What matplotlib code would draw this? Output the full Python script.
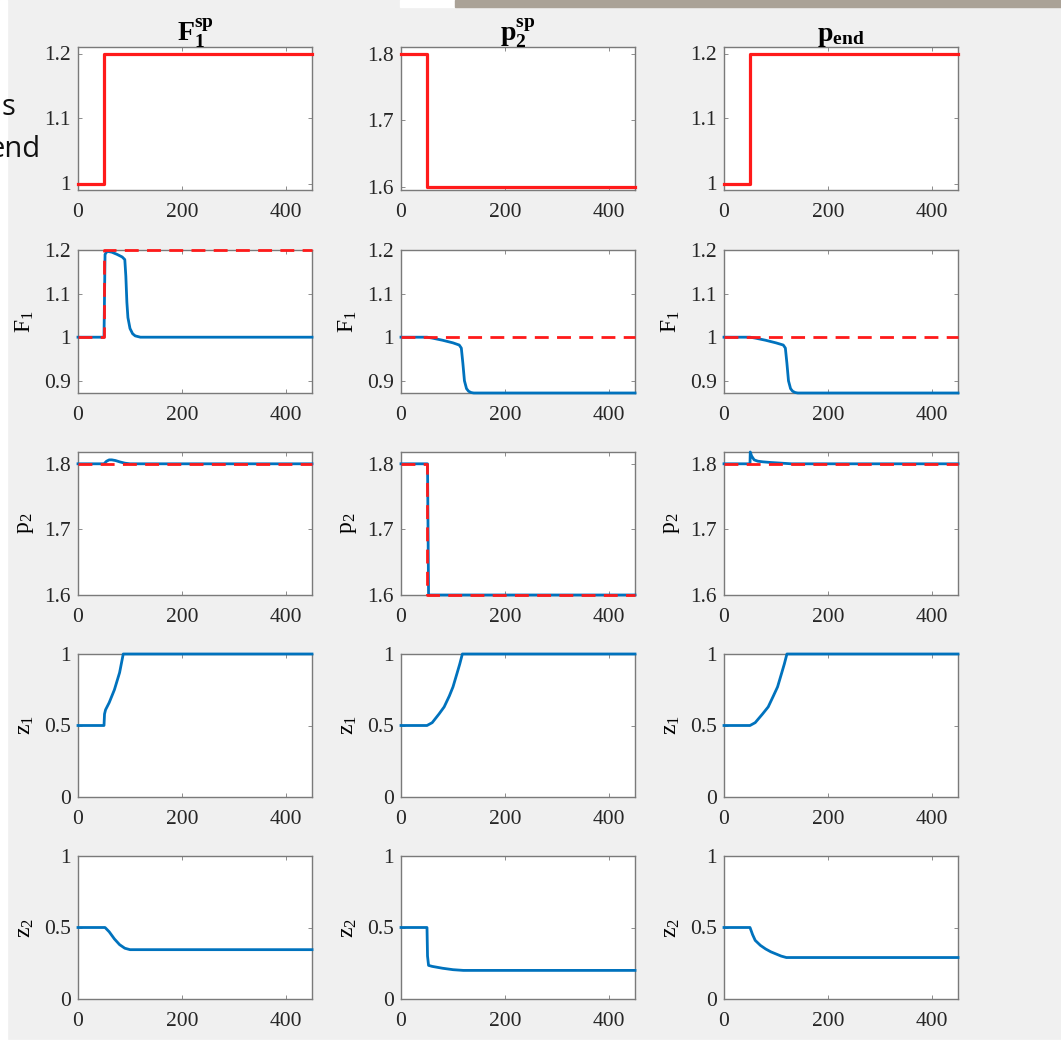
import matplotlib
matplotlib.use("Agg")
import matplotlib.pyplot as plt
from matplotlib.patches import Rectangle

plt.rcParams['font.family'] = ['Liberation Serif', 'DejaVu Serif']
plt.rcParams['mathtext.fontset'] = 'custom'
plt.rcParams['mathtext.rm'] = 'Liberation Serif'
plt.rcParams['mathtext.it'] = 'Liberation Serif'
plt.rcParams['mathtext.bf'] = 'Liberation Serif:bold'

# column titles and row labels
col_titles = [r'$\mathbf{F_1^{sp}}$', r'$\mathbf{p_2^{sp}}$', r'$\mathbf{p_{end}}$']
row_labels = [None, r'$\mathrm{F_1}$', r'$\mathrm{p_2}$', r'$\mathrm{z_1}$', r'$\mathrm{z_2}$']

# setpoints (red)
step_t = [0, 50, 50, 450]
F1sp = [1.0, 1.0, 1.2, 1.2]
p2sp = [1.8, 1.8, 1.6, 1.6]
pend = [1.0, 1.0, 1.2, 1.2]
F1_const = [1.0, 1.0, 1.0, 1.0]
p2_const = [1.8, 1.8, 1.8, 1.8]

# F1 responses (blue)
F1_a_t = [0, 50, 52, 56, 65, 75, 85, 90, 92, 94, 96, 100, 105, 110, 120, 450]
F1_a = [1.0, 1.0, 1.19, 1.197, 1.195, 1.19, 1.184, 1.178, 1.14, 1.08, 1.045, 1.02, 1.008, 1.003, 1.0, 1.0]
F1_b_t = [0, 50, 60, 80, 100, 112, 116, 119, 122, 126, 130, 135, 140, 450]
F1_b = [1.0, 1.0, 0.998, 0.993, 0.987, 0.982, 0.975, 0.94, 0.9, 0.882, 0.876, 0.873, 0.872, 0.872]
F1_c_t = [0, 50, 60, 80, 100, 114, 118, 121, 124, 128, 132, 137, 142, 450]
F1_c = [1.0, 1.0, 0.998, 0.993, 0.987, 0.982, 0.975, 0.94, 0.9, 0.882, 0.876, 0.873, 0.872, 0.872]

# p2 responses (blue)
p2_a_t = [0, 50, 55, 60, 65, 72, 80, 90, 100, 450]
p2_a = [1.8, 1.8, 1.804, 1.806, 1.806, 1.805, 1.803, 1.801, 1.8, 1.8]
p2_b_t = [0, 51, 53, 450]
p2_b = [1.8, 1.8, 1.6, 1.6]
p2_c_t = [0, 50, 50.5, 53, 58, 65, 75, 90, 110, 130, 450]
p2_c = [1.8, 1.8, 1.818, 1.812, 1.806, 1.804, 1.803, 1.802, 1.801, 1.8, 1.8]

# z1 responses (blue)
z1_a_t = [0, 50, 51, 53, 60, 70, 80, 87, 450]
z1_a = [0.5, 0.5, 0.58, 0.61, 0.66, 0.75, 0.87, 1.0, 1.0]
z1_b_t = [0, 50, 60, 73, 83, 93, 100, 108, 113, 118, 450]
z1_b = [0.5, 0.5, 0.52, 0.58, 0.63, 0.707, 0.77, 0.868, 0.93, 1.0, 1.0]
z1_c_t = [0, 50, 60, 74, 85, 95, 103, 111, 116, 121, 450]
z1_c = [0.5, 0.5, 0.52, 0.58, 0.63, 0.707, 0.77, 0.868, 0.93, 1.0, 1.0]

# z2 responses (blue)
z2_a_t = [0, 52, 60, 70, 80, 90, 100, 450]
z2_a = [0.5, 0.5, 0.47, 0.42, 0.38, 0.355, 0.345, 0.345]
z2_b_t = [0, 50, 51, 53, 60, 80, 100, 120, 450]
z2_b = [0.5, 0.5, 0.3, 0.235, 0.228, 0.215, 0.205, 0.2, 0.2]
z2_c_t = [0, 50, 55, 60, 70, 80, 90, 100, 110, 120, 450]
z2_c = [0.5, 0.5, 0.45, 0.41, 0.375, 0.35, 0.33, 0.315, 0.3, 0.29, 0.29]

ylims = [None, (0.872, 1.2), (1.6, 1.818), (0, 1), (0, 1)]
yticks = [None, [0.9, 1, 1.1, 1.2], [1.6, 1.7, 1.8], [0, 0.5, 1], [0, 0.5, 1]]
ytick_labels = [None, ['0.9', '1', '1.1', '1.2'], ['1.6', '1.7', '1.8'], ['0', '0.5', '1'], ['0', '0.5', '1']]

red = '#ff1a1a'
blue = '#0072bd'

W, H = 1061, 1045
fig = plt.figure(figsize=(W / 100, H / 100), dpi=100, facecolor='#f0f0f0')

# screenshot leftovers: white edge, top bar, cropped slide text
fig.patches.append(Rectangle((0, 0), 7 / W, 1, transform=fig.transFigure, color='white', zorder=0))
fig.patches.append(Rectangle((0, 0), 1, 5 / H, transform=fig.transFigure, color='white', zorder=0))
fig.patches.append(Rectangle((400 / W, 1 - 7 / H), 55 / W, 7 / H, transform=fig.transFigure, color='white', zorder=0))
fig.patches.append(Rectangle((455 / W, 1 - 7 / H), 606 / W, 7 / H, transform=fig.transFigure, color='#aaa297', zorder=0))
fig.text(15 / W, 1 - 115 / H, 's', family='Open Sans', fontsize=21, ha='right', va='baseline', color='#111111')
fig.text(41 / W, 1 - 157 / H, 'end', family='Open Sans', fontsize=21, ha='right', va='baseline', color='#111111')

lefts = [78, 401, 724]
tops = [47, 250, 452, 654, 856]
aw, ah = 234, 143

blue_data = [
    [(F1_a_t, F1_a), (F1_b_t, F1_b), (F1_c_t, F1_c)],
    [(p2_a_t, p2_a), (p2_b_t, p2_b), (p2_c_t, p2_c)],
    [(z1_a_t, z1_a), (z1_b_t, z1_b), (z1_c_t, z1_c)],
    [(z2_a_t, z2_a), (z2_b_t, z2_b), (z2_c_t, z2_c)],
]
sp_data = [F1sp, p2sp, pend]
dash_data = [
    [F1sp, F1_const, F1_const],
    [p2_const, p2sp, p2_const],
]

for r in range(5):
    for c in range(3):
        ax = fig.add_axes([lefts[c] / W, 1 - (tops[r] + ah) / H, aw / W, ah / H])
        if r == 0:
            ax.plot(step_t, sp_data[c], color=red, lw=2.3, clip_on=False, zorder=3)
            if c == 1:
                ax.set_ylim(1.595, 1.81)
                ax.set_yticks([1.6, 1.7, 1.8], ['1.6', '1.7', '1.8'])
            else:
                ax.set_ylim(0.99, 1.21)
                ax.set_yticks([1, 1.1, 1.2], ['1', '1.1', '1.2'])
            ax.set_title(col_titles[c], fontsize=20, pad=4)
        else:
            t, y = blue_data[r - 1][c]
            ax.plot(t, y, color=blue, lw=2.0, clip_on=False, zorder=3)
            if r <= 2:
                ax.plot(step_t, dash_data[r - 1][c], color=red, lw=2.0, ls=(0, (5, 3)),
                        clip_on=False, zorder=4)
            ax.set_ylim(*ylims[r])
            ax.set_yticks(yticks[r], ytick_labels[r])
            ax.set_ylabel(row_labels[r], fontsize=17, labelpad=6)
        ax.set_xlim(0, 450)
        ax.set_xticks([0, 200, 400])
        ax.tick_params(direction='in', top=True, right=True, length=3, width=0.6,
                       labelsize=15.5, colors='#7a7a7a', labelcolor='#262626')
        ax.tick_params(axis='x', pad=9)
        ax.tick_params(axis='y', pad=5)
        for s in ax.spines.values():
            s.set_color('#7a7a7a')
            s.set_linewidth(1.0)

fig.savefig('out.png', dpi=100, facecolor=fig.get_facecolor())
